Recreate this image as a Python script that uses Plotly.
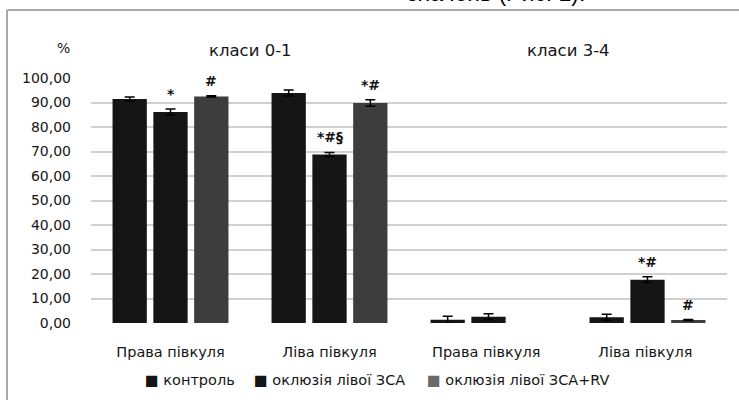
import plotly.graph_objects as go

categories = ["Права півкуля", "Ліва півкуля", "Права півкуля ", "Ліва півкуля "]
series_names = ["контроль", "оклюзія лівої ЗСА", "оклюзія лівої ЗСА+RV"]
control = [91.4, 93.9, 1.3, 2.3]
control_err = [0.8, 1.2, 1.5, 1.3]
occl = [86.1, 68.8, 2.6, 17.7]
occl_err = [1.2, 0.8, 1.2, 1.2]
occl_rv = [92.5, 89.8, None, 1.2]
occl_rv_err = [0.3, 1.3, None, 0.2]
y_ticks = [0, 10, 20, 30, 40, 50, 60, 70, 80, 90, 100]
y_tick_labels = ["0,00", "10,00", "20,00", "30,00", "40,00", "50,00",
                 "60,00", "70,00", "80,00", "90,00", "100,00"]
# significance marks: (category index, series index, text)
marks = [(0, 1, "*"), (0, 2, "#"), (1, 1, "*#§"), (1, 2, "*#"), (3, 1, "*#"), (3, 2, "#")]
group_titles = [(0.5, "класи 0-1"), (2.5, "класи 3-4")]

colors = ["#151515", "#151515", "#3d3d3d"]
legend_colors = ["#151515", "#151515", "#6a6a6a"]
legend_x_px = [143, 252, 425]
W, H = 739, 400
L, R, T, B = 91, 12, 78, 77
BARGAP, GROUPGAP = 0.23, 0.16
FONT = "DejaVu Sans"
TXT = "#151515"

values = [control, occl, occl_rv]
errs = [control_err, occl_err, occl_rv_err]

fig = go.Figure()
for name, v, e, c in zip(series_names, values, errs, colors):
    fig.add_trace(go.Bar(
        x=categories, y=v, name=name, marker=dict(color=c, line=dict(width=0)),
        showlegend=False,
        error_y=dict(type="data", array=e, visible=True, color="#000000",
                     thickness=1.5, width=5),
    ))

plot_w = W - L - R
plot_h = H - T - B
cat_w = plot_w / len(categories)
slot = cat_w * (1 - BARGAP) / len(series_names)

annotations = []
for ci, si, txt in marks:
    annotations.append(dict(
        x=categories[ci], y=values[si][ci] + errs[si][ci], xref="x", yref="y",
        text=txt, showarrow=False, yanchor="bottom", xanchor="center",
        xshift=(si - 1) * slot, yshift=5,
        font=dict(family=FONT, size=14, color="#111111", weight="bold"),
    ))
for pos, txt in group_titles:
    annotations.append(dict(
        x=pos, y=1.0, xref="x", yref="paper", text=txt, showarrow=False,
        yanchor="bottom", yshift=16, font=dict(family=FONT, size=16.5, color=TXT),
    ))
annotations.append(dict(
    x=-36 / plot_w, y=1.0, xref="paper", yref="paper", text="%", showarrow=False,
    yanchor="bottom", yshift=20, font=dict(family=FONT, size=14, color=TXT),
))
annotations.append(dict(
    x=(405 - L) / plot_w, y=1.0, xref="paper", yref="paper", text="значень (Рис. 1).",
    showarrow=False, xanchor="left", yanchor="bottom", yshift=T - 8,
    font=dict(family="Liberation Sans", size=23, color="#000000"),
))
# legend drawn as text entries
for name, c, px in zip(series_names, legend_colors, legend_x_px):
    annotations.append(dict(
        x=(px - L) / plot_w, y=-(380 - T - plot_h) / plot_h, xref="paper", yref="paper",
        text=f"<span style='color:{c}'>■</span> {name}", showarrow=False,
        xanchor="left", yanchor="middle",
        font=dict(family=FONT, size=14.5, color=TXT),
    ))

shapes = [
    dict(type="line", xref="paper", yref="paper",
         x0=(7 - L) / plot_w, x1=(W + 5 - L) / plot_w,
         y0=1 + (T - 10) / plot_h, y1=1 + (T - 10) / plot_h,
         line=dict(color="#a8a8a8", width=2)),
    dict(type="line", xref="paper", yref="paper",
         x0=(7 - L) / plot_w, x1=(7 - L) / plot_w,
         y0=1 + (T - 10) / plot_h, y1=-(B + 5) / plot_h,
         line=dict(color="#a8a8a8", width=2)),
]

fig.update_layout(
    width=W, height=H, margin=dict(l=L, r=R, t=T, b=B),
    paper_bgcolor="white", plot_bgcolor="white",
    barmode="group", bargap=BARGAP, bargroupgap=GROUPGAP,
    font=dict(family=FONT, size=13, color=TXT),
    showlegend=False,
    annotations=annotations, shapes=shapes,
    xaxis=dict(showgrid=False, showline=False, ticks="", ticklabelstandoff=18,
               tickfont=dict(family=FONT, size=14.5, color=TXT)),
    yaxis=dict(range=[0, 100], tickvals=y_ticks, ticktext=y_tick_labels,
               showgrid=True, gridcolor="#d0d0d0", gridwidth=1.5,
               zeroline=False, showline=False, ticks="", ticklabelstandoff=19,
               tickfont=dict(family=FONT, size=14, color=TXT)),
)
fig.write_html("out.html", config={"displayModeBar": False},
               post_script="document.body.style.margin='0';")
